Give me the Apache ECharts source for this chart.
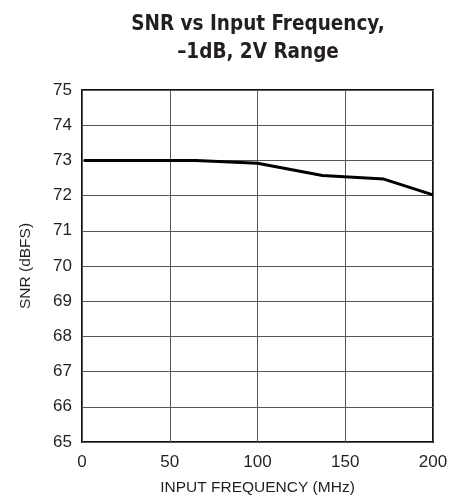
<!DOCTYPE html>
<html>
<head>
<meta charset="utf-8">
<script src="https://cdn.jsdelivr.net/npm/echarts@6/dist/echarts.min.js"></script>
<style>
  html, body { margin: 0; padding: 0; background: #fff; }
  #chart { width: 459px; height: 495px; }
</style>
</head>
<body>
<div id="chart"></div>
<script>
// SNR vs input frequency
var freqMHz = [1, 30, 65, 100, 137, 172, 200];
var snrDbfs = [73.0, 73.0, 73.0, 72.92, 72.57, 72.47, 72.02];
var titleLines = ['SNR vs Input Frequency,', '\u20131dB, 2V Range'];

var chart = echarts.init(document.getElementById('chart'));
var labelFont = 'Liberation Sans, Arial, sans-serif';
var narrowFont = '"DejaVu Sans Condensed", "Liberation Sans Narrow", sans-serif';

var option = {
  animation: false,
  backgroundColor: '#fff',
  title: {
    text: titleLines.join('\n'),
    left: 253,
    textAlign: 'center',
    top: 6,
    textStyle: {
      fontFamily: narrowFont,
      fontWeight: 'bold',
      fontSize: 20.5,
      lineHeight: 28,
      color: '#231f20'
    }
  },
  grid: {
    left: 82,
    right: 26,
    top: 90,
    bottom: 53,
    outerBoundsMode: 'none',
    show: true,
    borderColor: '#111',
    borderWidth: 2
  },
  xAxis: {
    type: 'value',
    min: 0,
    max: 200,
    interval: 50,
    name: 'INPUT FREQUENCY (MHz)',
    nameLocation: 'middle',
    nameGap: 38,
    nameTextStyle: { fontFamily: labelFont, fontSize: 15.5, color: '#231f20' },
    axisLine: { show: false },
    axisTick: { show: false },
    axisLabel: { fontFamily: labelFont, fontSize: 17, color: '#231f20', margin: 12 },
    splitLine: { lineStyle: { color: '#555', width: 1 } }
  },
  yAxis: {
    type: 'value',
    min: 65,
    max: 75,
    interval: 1,
    name: 'SNR (dBFS)',
    nameLocation: 'middle',
    nameGap: 48,
    nameTextStyle: { fontFamily: labelFont, fontSize: 15.5, color: '#231f20' },
    axisLine: { show: false },
    axisTick: { show: false },
    axisLabel: { fontFamily: labelFont, fontSize: 17, color: '#231f20', margin: 10 },
    splitLine: { lineStyle: { color: '#555', width: 1 } }
  },
  series: [{
    type: 'line',
    data: freqMHz.map(function (f, i) { return [f, snrDbfs[i]]; }),
    showSymbol: false,
    lineStyle: { color: '#000', width: 3 }
  }]
};
chart.setOption(option);
</script>
</body>
</html>
